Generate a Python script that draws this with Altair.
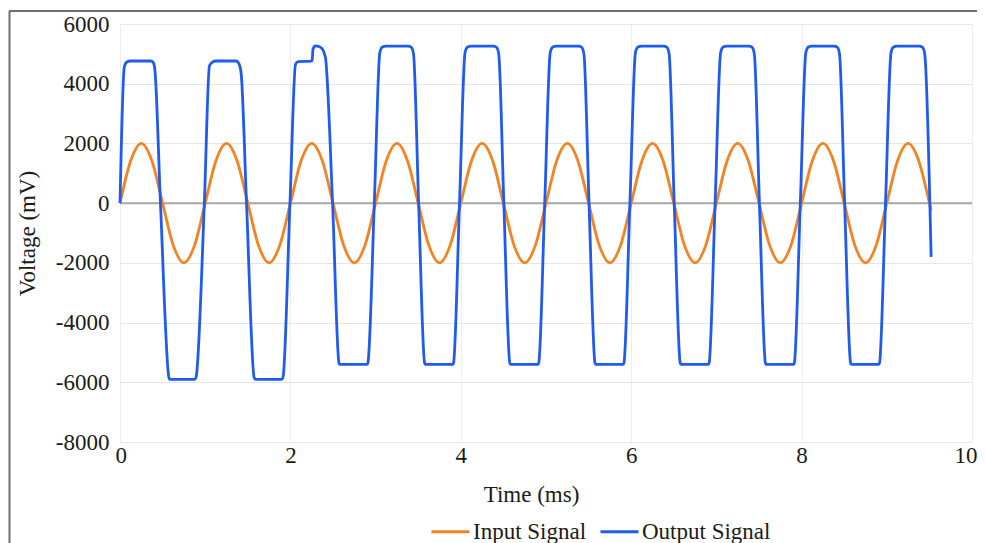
import altair as alt
import pandas as pd

# ---- data ----
input_t = [
    0, 0.125, 0.25, 0.375, 0.5, 0.625, 0.75, 0.875,
    1, 1.125, 1.25, 1.375, 1.5, 1.625, 1.75, 1.875,
    2, 2.125, 2.25, 2.375, 2.5, 2.625, 2.75, 2.875,
    3, 3.125, 3.25, 3.375, 3.5, 3.625, 3.75, 3.875,
    4, 4.125, 4.25, 4.375, 4.5, 4.625, 4.75, 4.875,
    5, 5.125, 5.25, 5.375, 5.5, 5.625, 5.75, 5.875,
    6, 6.125, 6.25, 6.375, 6.5, 6.625, 6.75, 6.875,
    7, 7.125, 7.25, 7.375, 7.5, 7.625, 7.75, 7.875,
    8, 8.125, 8.25, 8.375, 8.5, 8.625, 8.75, 8.875,
    9, 9.125, 9.25, 9.375, 9.5, 9.52,
]
input_v = [
    0, 1414, 2000, 1414, 0, -1414, -2000, -1414,
    0, 1414, 2000, 1414, 0, -1414, -2000, -1414,
    0, 1414, 2000, 1414, 0, -1414, -2000, -1414,
    0, 1414, 2000, 1414, 0, -1414, -2000, -1414,
    0, 1414, 2000, 1414, 0, -1414, -2000, -1414,
    0, 1414, 2000, 1414, 0, -1414, -2000, -1414,
    0, 1414, 2000, 1414, 0, -1414, -2000, -1414,
    0, 1414, 2000, 1414, 0, -1414, -2000, -1414,
    0, 1414, 2000, 1414, 0, -1414, -2000, -1414,
    0, 1414, 2000, 1414, 0, -250,
]

output_t = [
    0.00, 0.05, 0.08, 0.12, 0.36, 0.39, 0.41, 0.475, 0.575, 0.585, 0.88, 0.895,
    0.99, 1.05, 1.09, 1.12, 1.36, 1.39, 1.42, 1.485, 1.575, 1.59, 1.90, 1.915,
    1.995, 2.06, 2.09, 2.24, 2.255, 2.265, 2.29, 2.33, 2.37, 2.41, 2.495, 2.57, 2.58, 2.90, 2.91,
    2.985, 3.05, 3.08, 3.12, 3.38, 3.42, 3.445, 3.505, 3.575, 3.585, 3.905, 3.915,
    3.985, 4.05, 4.08, 4.12, 4.38, 4.42, 4.445, 4.505, 4.575, 4.585, 4.905, 4.915,
    4.985, 5.05, 5.08, 5.12, 5.38, 5.42, 5.445, 5.505, 5.575, 5.585, 5.905, 5.915,
    5.985, 6.05, 6.08, 6.12, 6.38, 6.42, 6.445, 6.505, 6.575, 6.585, 6.905, 6.915,
    6.985, 7.05, 7.08, 7.12, 7.38, 7.42, 7.445, 7.505, 7.575, 7.585, 7.905, 7.915,
    7.985, 8.05, 8.08, 8.12, 8.38, 8.42, 8.445, 8.505, 8.575, 8.585, 8.905, 8.915,
    8.985, 9.05, 9.08, 9.12, 9.38, 9.42, 9.445, 9.52,
]
output_v = [
    0, 4550, 4730, 4760, 4760, 4710, 4450, 0, -5850, -5900, -5900, -5800,
    0, 4600, 4730, 4760, 4760, 4700, 4400, 0, -5850, -5900, -5900, -5800,
    0, 4650, 4740, 4760, 4780, 5150, 5270, 5250, 5180, 4900, 0, -5350, -5400, -5400, -5350,
    0, 5050, 5230, 5260, 5260, 5220, 5000, 0, -5350, -5400, -5400, -5350,
    0, 5050, 5230, 5260, 5260, 5220, 5000, 0, -5350, -5400, -5400, -5350,
    0, 5050, 5230, 5260, 5260, 5220, 5000, 0, -5350, -5400, -5400, -5350,
    0, 5050, 5230, 5260, 5260, 5220, 5000, 0, -5350, -5400, -5400, -5350,
    0, 5050, 5230, 5260, 5260, 5220, 5000, 0, -5350, -5400, -5400, -5350,
    0, 5050, 5230, 5260, 5260, 5220, 5000, 0, -5350, -5400, -5400, -5350,
    0, 5050, 5230, 5260, 5260, 5220, 5000, -1800,
]

series_names = ["Input Signal", "Output Signal"]
series_colors = ["#F58220", "#1F5BEF"]
x_ticks = [0, 2, 4, 6, 8, 10]
y_ticks = [-8000, -6000, -4000, -2000, 0, 2000, 4000, 6000]

df = pd.concat([
    pd.DataFrame({"t": input_t, "v": input_v, "series": series_names[0], "order": range(len(input_t))}),
    pd.DataFrame({"t": output_t, "v": output_v, "series": series_names[1], "order": range(len(output_t))}),
], ignore_index=True)

FONT = "Liberation Serif"

x_enc = alt.X("t:Q", scale=alt.Scale(domain=[0, 10], nice=False, zero=False),
              axis=alt.Axis(values=x_ticks, labelExpr="'' + datum.value", title="Time (ms)",
                            labelBaseline="alphabetic", labelPadding=20,
                            labelFlush=True, labelFlushOffset=5,
                            titleBaseline="alphabetic", titleX=411, titleY=59,
                            gridColor="#EDEDED"))
y_enc = alt.Y("v:Q", scale=alt.Scale(domain=[-8000, 6000], nice=False, zero=False),
              axis=alt.Axis(values=y_ticks, labelExpr="'' + datum.value", title="Voltage (mV)",
                            labelPadding=11, titleBaseline="alphabetic",
                            titleX=-86, gridColor="#E6E6E6"))

zero_line = alt.Chart(pd.DataFrame({"v": [0]})).mark_rule(
    color="#A6A6A6", strokeWidth=2
).encode(y=alt.Y("v:Q", title="Voltage (mV)"))

lines = alt.Chart(df).mark_line(interpolate="monotone", strokeWidth=2.8).encode(
    x=x_enc,
    y=y_enc,
    order="order:Q",
    color=alt.Color("series:N",
                    scale=alt.Scale(domain=series_names, range=series_colors),
                    legend=alt.Legend(title=None, orient="none", direction="horizontal",
                                      legendX=310, legendY=487,
                                      symbolType="stroke", symbolSize=1444,
                                      symbolStrokeWidth=3, labelFontSize=23,
                                      labelFont=FONT, labelColor="#1a1a1a",
                                      labelOffset=2, columnPadding=7,
                                      padding=0, labelLimit=400)),
)

one = pd.DataFrame({"k": [0]})
frame_top = alt.Chart(one).mark_rule(color="#6F6F6F", strokeWidth=2).encode(
    x=alt.value(-111), x2=alt.value(865), y=alt.value(-13))
frame_left = alt.Chart(one).mark_rule(color="#6F6F6F", strokeWidth=2).encode(
    x=alt.value(-110.5), y=alt.value(-13), y2=alt.value(520))
frame_light = alt.Chart(one).mark_rule(color="#E3E3E3", strokeWidth=1).encode(
    x=alt.value(-120), x2=alt.value(853), y=alt.value(-19.5))

chart = alt.layer(zero_line, lines, frame_top, frame_left, frame_light).properties(
    width=852, height=418,
    background="white",
    autosize=alt.AutoSizeParams(type="none"),
    padding={"left": 112, "top": 16, "right": 5, "bottom": 101},
).configure_axis(
    labelFont=FONT, titleFont=FONT, labelFontSize=23, titleFontSize=23,
    labelColor="#1a1a1a", titleColor="#1a1a1a", titleFontWeight="normal",
    domain=False, ticks=False, tickSize=0,
).configure_view(strokeWidth=0)

chart.save("out.html", embed_options={"renderer": "svg", "actions": False})
